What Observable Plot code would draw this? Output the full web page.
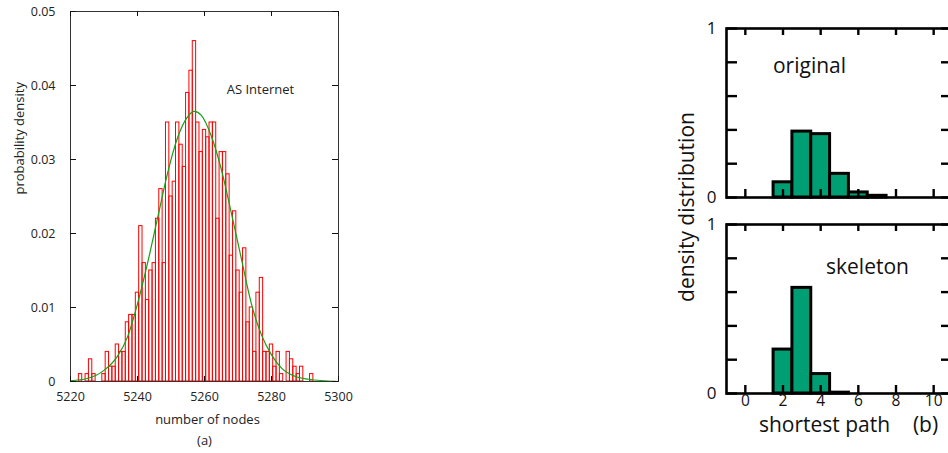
<!DOCTYPE html>
<html>
<head>
<meta charset="utf-8">
<script src="https://cdn.jsdelivr.net/npm/d3@7"></script>
<script src="https://cdn.jsdelivr.net/npm/@observablehq/plot@0.6"></script>
<style>
  html, body { margin: 0; padding: 0; background: #fff; overflow: hidden; }
  #wrap { position: relative; width: 948px; height: 453px; overflow: hidden; }
  .abs { position: absolute; }
  svg { max-width: none !important; }
  #ylabB { position: absolute; left: 686px; top: 207px; transform: translate(-50%, -50%) rotate(-90deg);
           font-family: 'Open Sans', sans-serif; font-size: 21px; color: #111; white-space: nowrap; }
</style>
</head>
<body>
<div id="wrap">
  <div id="pa" class="abs" style="left:0;top:0;width:380px"></div>
  <div id="pb1" class="abs" style="left:640px;top:0;width:320px"></div>
  <div id="pb2" class="abs" style="left:640px;top:196px;width:320px"></div>
  <div id="ylabB">density distribution</div>
</div>
<script>
// ---------- Panel (a): histogram of number of nodes ----------
const nodeBins = [5223,5224,5225,5226,5227,5228,5229,5230,5231,5232,5233,5234,5235,5236,5237,5238,5239,5240,
  5241,5242,5243,5244,5245,5246,5247,5248,5249,5250,5251,5252,5253,5254,5255,5256,5257,5258,5259,5260,
  5261,5262,5263,5264,5265,5266,5267,5268,5269,5270,5271,5272,5273,5274,5275,5276,5277,5278,5279,5280,
  5281,5282,5283,5284,5285,5286,5287,5288,5289,5290,5291,5292];
const nodeDensity = [0.001,0,0.001,0.003,0.001,0,0,0.001,0.004,0.002,0.002,0.005,0.004,0.004,0.008,0.009,0.009,0.012,
  0.021,0.016,0.011,0.015,0.016,0.022,0.026,0.016,0.035,0.025,0.027,0.035,0.032,0.029,0.039,0.042,0.046,0.035,0.031,0.034,
  0.033,0.035,0.035,0.022,0.031,0.031,0.028,0.017,0.023,0.015,0.012,0.018,0.008,0.010,0.004,0.012,0.014,0.004,0.004,0.005,
  0.002,0.004,0.001,0,0.004,0.003,0.002,0.001,0.002,0,0,0.001];
// fitted curve
const fitX = [5220,5225,5230,5234,5237,5240,5243,5246,5249,5252,5255,5257,5259,5262,5265,5268,5271,5274,5277,5280,5283,5287,5291,5296,5300];
const fitY = [0.0001,0.0004,0.0015,0.0034,0.0060,0.0105,0.0160,0.0221,0.0282,0.0330,0.0358,0.0365,0.0360,0.0332,0.0287,0.0228,0.0166,0.0105,0.0063,0.0036,0.0018,0.0007,0.0003,0.0001,0.0000];
const aXTicks = [5220, 5240, 5260, 5280, 5300];
const aYTicks = [0, 0.01, 0.02, 0.03, 0.04, 0.05];
const aYTickLabels = ["0", "0.01", "0.02", "0.03", "0.04", "0.05"];

// ---------- Panel (b): shortest path distributions ----------
const pathX = [2, 3, 4, 5, 6, 7];
const originalDist = [0.09, 0.39, 0.375, 0.14, 0.03, 0.01];
const skeletonX = [2, 3, 4, 5];
const skeletonDist = [0.26, 0.625, 0.115, 0.005];
const bXTicks = [0, 2, 4, 6, 8, 10];
const bYTicks = [0, 0.2, 0.4, 0.6, 0.8, 1];
const bYLabels = [0, 1];

const hist = nodeBins.map((n, i) => ({n, p: nodeDensity[i]})).filter(d => d.p > 0);
const fit = fitX.map((n, i) => ({n, p: fitY[i]}));

const fontA = "'Open Sans', sans-serif";
const aTop = 11, aBottom = 381, aLeft = 70, aRight = 338;
const aFrameH = aBottom - aTop;
const aFrameW = aRight - aLeft;

const plotA = Plot.plot({
  width: 380, height: 453,
  marginLeft: aLeft, marginRight: 380 - aRight, marginTop: aTop, marginBottom: 453 - aBottom,
  x: {domain: [5220, 5300], axis: null},
  y: {domain: [0, 0.05], axis: null},
  style: {fontFamily: fontA, background: "transparent", overflow: "visible", color: "#222"},
  marks: [
    Plot.rect(hist, {x1: d => d.n - 0.5, x2: d => d.n + 0.5, y1: 0, y2: "p", fill: "none", stroke: "#ff0000", strokeWidth: 1}),
    Plot.line(fit, {x: "n", y: "p", stroke: "#14a014", strokeWidth: 1.2, curve: "monotone-x"}),
    Plot.frame({stroke: "#333", strokeWidth: 1}),
    Plot.tickX(aXTicks, {x: d => d, insetTop: aFrameH - 5, stroke: "#111"}),
    Plot.tickX(aXTicks, {x: d => d, insetBottom: aFrameH - 5, stroke: "#111"}),
    Plot.tickY(aYTicks, {y: d => d, insetRight: aFrameW - 6, stroke: "#111"}),
    Plot.tickY(aYTicks, {y: d => d, insetLeft: aFrameW - 6, stroke: "#111"}),
    Plot.text(aXTicks, {x: d => d, text: d => String(d), frameAnchor: "bottom", dy: 19, fontSize: 12.5, fill: "#222"}),
    Plot.text(aYTicks, {y: d => d, text: (d, i) => aYTickLabels[i], frameAnchor: "left", textAnchor: "end", dx: -15, fontSize: 12.5, fill: "#222"}),
    Plot.text(["number of nodes"], {frameAnchor: "bottom", dx: 3, dy: 42, fontSize: 13, fill: "#222"}),
    Plot.text(["(a)"], {frameAnchor: "bottom", dx: 0, dy: 63, fontSize: 13, fill: "#222"}),
    Plot.text(["AS Internet"], {frameAnchor: "top-left", dx: 190, dy: 73, textAnchor: "middle", fontSize: 13, fill: "#222"}),
    Plot.text(["probability density"], {frameAnchor: "left", dx: -51, dy: -2, rotate: -90, fontSize: 13, fill: "#222"})
  ]
});
document.getElementById("pa").appendChild(plotA);

// panel b helper
const fontB = "'Open Sans', sans-serif";
const bW = 320, bML = 86, bMR = 8;
const bFrameW = bW - bML - bMR;
const bFrameH = 169;

function panelB(xs, vals, label, labelDx, labelDy, showX, height, marginBottom) {
  const data = xs.map((x, i) => ({x, v: vals[i]}));
  const marks = [
    Plot.rect(data, {x1: d => d.x - 0.5, x2: d => d.x + 0.5, y1: 0, y2: "v", fill: "#009E73", stroke: "#000", strokeWidth: 3, strokeLinejoin: "miter"}),
    Plot.ruleY([0], {x1: 0.6, x2: 11, stroke: "#9a1010", strokeWidth: 1.2, strokeOpacity: showX ? 0.35 : 0.9}),
    Plot.frame({stroke: "#000", strokeWidth: 2.6}),
    Plot.tickX(bXTicks, {x: d => d, insetBottom: bFrameH - 7, stroke: "#000", strokeWidth: 2.4}),
    Plot.tickX(bXTicks, {x: d => d, insetTop: bFrameH - 8, stroke: "#000", strokeWidth: 2.4}),
    Plot.tickY(bYTicks, {y: d => d, insetRight: bFrameW - 11, stroke: "#000", strokeWidth: 2.4}),
    Plot.tickY(bYTicks, {y: d => d, insetLeft: bFrameW - 11, stroke: "#000", strokeWidth: 2.4}),
    Plot.text(bYLabels, {y: d => d, text: d => String(d), frameAnchor: "left", textAnchor: "end", dx: -10, fontSize: 17, fill: "#111"}),
    Plot.text([label], {frameAnchor: "top", dx: labelDx, dy: labelDy, fontSize: 21, fill: "#111"})
  ];
  if (showX) {
    marks.push(Plot.text(bXTicks, {x: d => d, text: d => String(d), frameAnchor: "bottom", dy: 12, fontSize: 15.5, fill: "#111"}));
    marks.push(Plot.text(["shortest path"], {frameAnchor: "bottom", dx: -15, dy: 38.5, fontSize: 21, fill: "#111"}));
    marks.push(Plot.text(["(b)"], {frameAnchor: "bottom", dx: 86, dy: 38.5, fontSize: 21, fill: "#111"}));
  }
  return Plot.plot({
    width: bW, height,
    marginLeft: bML, marginRight: bMR, marginTop: 28, marginBottom,
    x: {domain: [-1, 11], axis: null},
    y: {domain: [0, 1], axis: null},
    style: {fontFamily: fontB, background: "transparent", overflow: "visible", color: "#111"},
    marks
  });
}

document.getElementById("pb1").appendChild(panelB(pathX, originalDist, "original", -30, 30, false, 28 + bFrameH + 12, 12));
document.getElementById("pb2").appendChild(panelB(skeletonX, skeletonDist, "skeleton", 28, 35, true, 257, 257 - 28 - bFrameH));
</script>
</body>
</html>
